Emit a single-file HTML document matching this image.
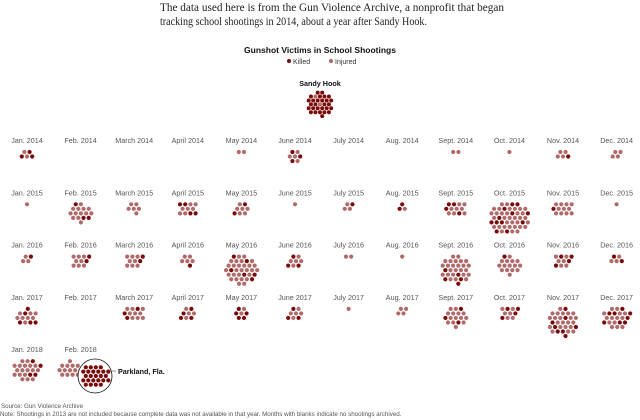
<!DOCTYPE html>
<html><head><meta charset="utf-8">
<style>
body{margin:0;background:#fff;width:640px;height:420px;overflow:hidden;position:relative;font-family:"Liberation Sans",sans-serif}
</style></head><body>
<svg id="c" width="640" height="420" style="position:absolute;left:0;top:0">
<text x="160" y="11" font-family="Liberation Serif,serif" font-size="11.5" fill="#222" textLength="344" lengthAdjust="spacingAndGlyphs">The data used here is from the Gun Violence Archive, a nonprofit that began</text>
<text x="160" y="25" font-family="Liberation Serif,serif" font-size="11.5" fill="#222" textLength="267" lengthAdjust="spacingAndGlyphs">tracking school shootings in 2014, about a year after Sandy Hook.</text>
<text x="320" y="53" text-anchor="middle" font-size="8.5" font-weight="bold" fill="#111">Gunshot Victims in School Shootings</text>
<g>
<circle cx="289" cy="61" r="2" fill="#7a0a0a"/><text x="293" y="64" font-size="7" fill="#333">Killed</text>
<circle cx="331" cy="61" r="2" fill="#b06a6a"/><text x="335" y="64" font-size="7" fill="#333">Injured</text>
</g>
<text x="1" y="408" font-size="6.2" fill="#555">Source: Gun Violence Archive</text>
<text x="0" y="416" font-size="6.2" fill="#555">Note: Shootings in 2013 are not included because complete data was not available in that year. Months with blanks indicate no shootings archived.</text>
</svg>
<script>
const monthNames=["Jan.","Feb.","March","April","May","June","July","Aug.","Sept.","Oct.","Nov.","Dec."];
const years=[2014,2015,2016,2017,2018];
const killed2014=[3,0,0,0,0,3,0,0,0,0,1,0];
const injured2014=[2,0,0,0,2,4,0,0,2,1,4,4];
const killed2015=[0,3,0,4,2,0,1,2,4,12,1,0];
const injured2015=[1,13,6,7,6,1,3,1,8,34,11,1];
const killed2016=[1,2,2,1,6,3,0,0,5,1,4,2];
const injured2016=[3,8,8,5,28,5,2,1,25,15,6,3];
const killed2017=[5,0,3,4,5,3,0,0,3,4,8,8];
const injured2017=[8,0,9,4,2,5,1,4,14,6,22,14];
const killed2018=[4,0];
const injured2018=[18,14];
const sandyHook=[28,2];
const parkland=[25,0];
const K=[killed2014,killed2015,killed2016,killed2017,killed2018];
const I=[injured2014,injured2015,injured2016,injured2017,injured2018];
const svg=document.getElementById('c');
const NS="http://www.w3.org/2000/svg";
const colX=m=>27+m*53.6;
const rowY=r=>140+r*52.3;
function hexPts(n,sp){
  const pts=[];const R=8;
  for(let j=-R;j<=R;j++)for(let i=-R;i<=R;i++){
    const x=(i+(Math.abs(j)%2?0.5:0))*sp,y=j*sp*0.87;
    const d=Math.round(Math.hypot(x*0.9,y)/sp*5)/5;
    pts.push([x,y,d+((Math.atan2(y,x)+4)%6.3)*0.001]);}
  pts.sort((a,b)=>a[2]-b[2]);
  const s=pts.slice(0,n);
  const mx=s.reduce((a,p)=>a+p[0],0)/n,my=s.reduce((a,p)=>a+p[1],0)/n;
  return s.map(p=>[p[0]-mx,p[1]-my]);
}
function cluster(cx,cy,k,inj,name,sp,r,top){
  const n=k+inj;if(!n)return;
  const g=document.createElementNS(NS,'g');
  
  
  const pts=hexPts(n,sp);
  if(top){let mn=0;pts.forEach(p=>{if(p[1]<mn)mn=p[1];});cy=cy-mn;}
  pts.forEach((p,i)=>{
    const isK=Math.floor((i+1)*k/n)>Math.floor(i*k/n);
    const c=document.createElementNS(NS,'circle');
    
    
    c.setAttribute('cx',cx+p[0]);c.setAttribute('cy',cy+p[1]);c.setAttribute('r',r);
    c.setAttribute('fill',isK?'#7a0a0a':'#b06a6a');g.appendChild(c);
  });
  svg.appendChild(g);
}
function label(x,y,t,name,extra){
  const e=document.createElementNS(NS,'text');
  
  
  e.setAttribute('x',x);e.setAttribute('y',y);e.setAttribute('font-size','7.2');
  e.setAttribute('text-anchor',extra||'middle');e.setAttribute('fill','#555');e.textContent=t;svg.appendChild(e);return e;
}
years.forEach((yr,r)=>{
  K[r].forEach((k,m)=>{
    label(colX(m),rowY(r)+3,monthNames[m]+' '+yr,'month-label');
    const cx=(r===4&&m===1)?70:colX(m);
    cluster(cx,rowY(r)+12,k,I[r][m],'month-cluster',5.2,2.1,true);
  });
});
const sh=label(320,86,'Sandy Hook','sandy-hook-label');sh.setAttribute('font-weight','bold');sh.setAttribute('fill','#111');
cluster(320,104,sandyHook[0],sandyHook[1],'sandy-hook-cluster',4.5,2);
const o=document.createElementNS(NS,'circle');


o.setAttribute('cx',95);o.setAttribute('cy',376);o.setAttribute('r',17);o.setAttribute('fill','#fff');o.setAttribute('stroke','#111');o.setAttribute('stroke-width','0.8');
svg.appendChild(o);
cluster(95,376,parkland[0],parkland[1],'parkland-cluster',5,2.1);
const ln=document.createElementNS(NS,'line');


ln.setAttribute('x1',112);ln.setAttribute('y1',371);ln.setAttribute('x2',116);ln.setAttribute('y2',371);ln.setAttribute('stroke','#888');
svg.appendChild(ln);
const pl=label(118,374,'Parkland, Fla.','parkland-label','start');pl.setAttribute('font-weight','bold');pl.setAttribute('fill','#111');
</script>
</body></html>
